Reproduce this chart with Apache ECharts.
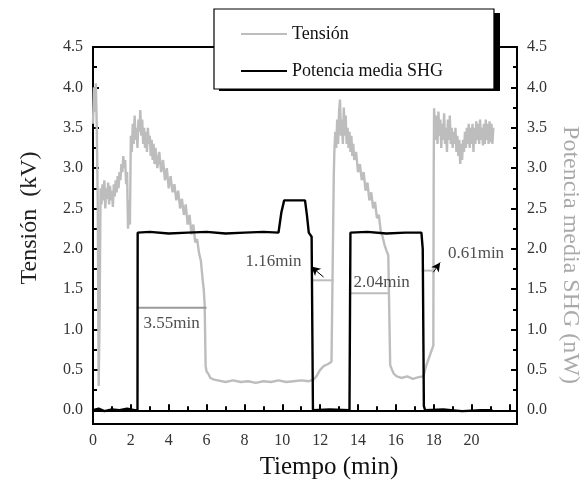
<!DOCTYPE html>
<html>
<head>
<meta charset="utf-8">
<script src="https://cdn.jsdelivr.net/npm/echarts@6/dist/echarts.min.js"></script>
<style>
  html, body { margin: 0; padding: 0; background: #fff; }
  #main { width: 587px; height: 483px; }
</style>
</head>
<body>
<div id="main"></div>
<script>
// Tensión (kV), gris: [tiempo (min), valor]
const tension = [
  [0, 3.55], [0.05, 4.0], [0.1, 3.7], [0.15, 4.05], [0.2, 3.5], [0.25, 2.6], [0.3, 0.3], [0.35, 1.2], [0.4, 2.75],
  [0.45, 2.55], [0.5, 2.8], [0.55, 2.6], [0.6, 2.85], [0.65, 2.5], [0.7, 2.75], [0.75, 2.62], [0.8, 2.82],
  [0.85, 2.55], [0.9, 2.78], [0.95, 2.6], [1.0, 2.72], [1.05, 2.52], [1.1, 2.8], [1.15, 2.65], [1.2, 2.85],
  [1.25, 2.7], [1.3, 2.9], [1.35, 2.75], [1.4, 2.95], [1.45, 2.85], [1.5, 3.05], [1.55, 2.95], [1.6, 3.15],
  [1.65, 3.0], [1.7, 3.1], [1.75, 2.8], [1.8, 2.95], [1.85, 2.25], [1.9, 2.6], [1.95, 2.3],
  [2.0, 3.4], [2.05, 3.2], [2.1, 3.55], [2.15, 3.3], [2.2, 3.65], [2.25, 3.35], [2.3, 3.5], [2.35, 3.25],
  [2.4, 3.6], [2.45, 3.45], [2.5, 3.72], [2.55, 3.4], [2.6, 3.6], [2.65, 3.3], [2.7, 3.5], [2.75, 3.25],
  [2.8, 3.45], [2.85, 3.2], [2.9, 3.5], [2.95, 3.3], [3.0, 3.4], [3.05, 3.15],
  [3.1, 3.35], [3.15, 3.1], [3.2, 3.3], [3.25, 3.05], [3.3, 3.25], [3.4, 3.0], [3.5, 3.2], [3.6, 2.95],
  [3.7, 3.1], [3.8, 2.85], [3.9, 3.0], [4.0, 2.75], [4.1, 2.9], [4.2, 2.7], [4.3, 2.8], [4.4, 2.6],
  [4.5, 2.72], [4.6, 2.5], [4.7, 2.62], [4.8, 2.42], [4.9, 2.55], [5.0, 2.3], [5.1, 2.42], [5.2, 2.18],
  [5.3, 2.3], [5.4, 2.08], [5.5, 2.12], [5.6, 1.95], [5.7, 1.85], [5.8, 1.6], [5.85, 1.5], [5.9, 1.3],
  [5.95, 0.55], [6.0, 0.48], [6.1, 0.45], [6.2, 0.4], [6.4, 0.38], [6.6, 0.37],
  [7.0, 0.35], [7.4, 0.37], [7.8, 0.35], [8.2, 0.36], [8.6, 0.34], [9.0, 0.36], [9.4, 0.35], [9.8, 0.37],
  [10.2, 0.35], [10.6, 0.36], [11.0, 0.37], [11.4, 0.36], [11.65, 0.38],
  [11.8, 0.42], [12.0, 0.5], [12.2, 0.55], [12.4, 0.57], [12.6, 0.6], [12.7, 0.62], [12.72, 2.9], [12.75, 3.2],
  [12.8, 3.45], [12.85, 3.25], [12.9, 3.6], [12.95, 3.3], [13.0, 3.7], [13.05, 3.85], [13.1, 3.4], [13.15, 3.6],
  [13.2, 3.3], [13.25, 3.75], [13.3, 3.4], [13.35, 3.65], [13.4, 3.3], [13.45, 3.5], [13.5, 3.25], [13.55, 3.45],
  [13.6, 3.2], [13.65, 3.4], [13.7, 3.15], [13.75, 3.3],
  [13.8, 3.1], [13.9, 3.2], [14.0, 2.95], [14.1, 3.05], [14.2, 2.85], [14.3, 2.95], [14.4, 2.72], [14.5, 2.82],
  [14.6, 2.6], [14.7, 2.7], [14.8, 2.5], [14.9, 2.58], [15.0, 2.38], [15.1, 2.42], [15.2, 2.22], [15.3, 2.15],
  [15.4, 2.05], [15.5, 1.98], [15.6, 1.92], [15.65, 1.9], [15.7, 0.56], [15.8, 0.5], [15.9, 0.45], [16.05, 0.42],
  [16.3, 0.4], [16.6, 0.42], [16.9, 0.39], [17.2, 0.41], [17.45, 0.42],
  [17.6, 0.55], [17.75, 0.65], [17.9, 0.75], [17.98, 0.8], [18.0, 3.0], [18.02, 3.74],
  [18.1, 3.35], [18.15, 3.65], [18.2, 3.3], [18.25, 3.7], [18.3, 3.4], [18.35, 3.6], [18.4, 3.25], [18.45, 3.55],
  [18.5, 3.35], [18.55, 3.68], [18.6, 3.3], [18.65, 3.5], [18.7, 3.2], [18.75, 3.6], [18.8, 3.35], [18.85, 3.65],
  [18.9, 3.3], [18.95, 3.5], [19.0, 3.25], [19.05, 3.45], [19.1, 3.3], [19.15, 3.5], [19.2, 3.2], [19.25, 3.4],
  [19.3, 3.15], [19.35, 3.35], [19.4, 3.05], [19.45, 3.3], [19.5, 3.1], [19.55, 3.35], [19.6, 3.2], [19.65, 3.45],
  [19.7, 3.25], [19.75, 3.5], [19.8, 3.3], [19.85, 3.55], [19.9, 3.25], [19.95, 3.5], [20.0, 3.3], [20.05, 3.55],
  [20.1, 3.2], [20.15, 3.5], [20.2, 3.3], [20.25, 3.58], [20.3, 3.35], [20.35, 3.55], [20.4, 3.3], [20.45, 3.6],
  [20.5, 3.35], [20.55, 3.5], [20.6, 3.28], [20.65, 3.55], [20.7, 3.3], [20.75, 3.6], [20.8, 3.35], [20.85, 3.55],
  [20.9, 3.3], [20.95, 3.58], [21.0, 3.32], [21.05, 3.55], [21.1, 3.3], [21.15, 3.5]
]

// Potencia media SHG (nW), negro
const potencia = [
  [0, 0.0], [0.3, 0.02], [0.6, -0.01], [1.0, 0.01], [1.4, 0.0], [1.8, 0.02], [2.2, 0.0], [2.35, 0.0],
  [2.36, 2.2], [3, 2.21], [4, 2.19], [5, 2.2], [6, 2.21], [7, 2.19], [8, 2.2], [9, 2.21], [9.8, 2.2],
  [9.95, 2.45], [10.1, 2.6], [11.2, 2.6], [11.3, 2.42], [11.4, 2.2], [11.55, 2.15], [11.62, 0.0],
  [12.5, 0.01], [13.55, 0.0], [13.6, 2.2], [14.5, 2.21], [15.5, 2.19], [16.5, 2.2], [17.35, 2.2],
  [17.42, 2.0], [17.48, 0.05], [17.55, 0.0], [18.5, 0.01], [19.5, -0.01], [20.5, 0.0], [21.1, 0.0]
]

// tramos horizontales que miden los tiempos
const tramos = [
  { d: [[2.36, 1.27], [6.0, 1.27]], c: '#9a9a9a' },
  { d: [[11.6, 1.61], [12.72, 1.61]], c: '#bdbdbd' },
  { d: [[13.59, 1.45], [15.65, 1.45]], c: '#bdbdbd' },
  { d: [[17.37, 1.73], [17.98, 1.73]], c: '#bdbdbd' }
]
// flechas: [cabeza, cola]
const flechas = [
  [[11.53, 1.78], [12.18, 1.65]],
  [[18.34, 1.83], [17.98, 1.71]]
]
const etiquetas = [
  [2.67, 1.07, '3.55min'],
  [8.05, 1.84, '1.16min'],
  [13.76, 1.58, '2.04min'],
  [18.75, 1.94, '0.61min']
]

const yLabels = [0, 0.5, 1, 1.5, 2, 2.5, 3, 3.5, 4, 4.5]
const yMinor = [0.25, 0.75, 1.25, 1.75, 2.25, 2.75, 3.25, 3.75, 4.25]

const serif = 'Liberation Serif'
const lbl = { color: '#333', fontFamily: serif, fontSize: 16 }

function yAx(pos, minor) {
  return {
    type: 'value', position: pos, min: -0.17, max: 4.5,
    splitLine: { show: false },
    axisLine: { show: true, lineStyle: { color: '#000', width: 2 } },
    axisTick: {
      show: true, inside: true, length: minor ? 4 : 6,
      lineStyle: { color: '#000', width: 2 },
      customValues: minor ? yMinor : yLabels
    },
    axisLabel: minor ? { show: false } : Object.assign({
      margin: 10, customValues: yLabels,
      formatter: v => v.toFixed(1)
    }, lbl)
  }
}

const lineIcon = 'path://M0,0L46,0L46,2L0,2Z'

const series = [
  {
    name: 'Tensión', type: 'line', data: tension, yAxisIndex: 0,
    symbol: 'none', lineStyle: { color: '#bdbdbd', width: 2.4 }, itemStyle: { color: '#bdbdbd' }, z: 2
  },
  {
    name: 'Potencia media SHG', type: 'line', data: potencia, yAxisIndex: 2,
    symbol: 'none', lineStyle: { color: '#000', width: 2.4 }, itemStyle: { color: '#000' }, z: 3
  }
]
tramos.forEach(t => {
  series.push({
    type: 'line', data: t.d, symbol: 'none', yAxisIndex: 0, silent: true,
    lineStyle: { color: t.c, width: 2 }, z: 2
  })
})
series.push({
  type: 'line', data: [], yAxisIndex: 0, silent: true,
  markLine: {
    silent: true, symbol: ['arrow', 'none'], symbolSize: [7, 9],
    lineStyle: { color: '#000', width: 1, type: 'solid' }, label: { show: false },
    data: flechas.map(f => [{ coord: f[0] }, { coord: f[1] }])
  }
})
series.push({
  type: 'scatter', data: etiquetas, yAxisIndex: 0, symbolSize: 0, silent: true,
  label: {
    show: true, position: [0, 0], align: 'left', verticalAlign: 'middle',
    formatter: p => p.data[2], color: '#222', fontFamily: serif, fontSize: 17
  }
})

const chart = echarts.init(document.getElementById('main'))
chart.setOption({
  animation: false,
  backgroundColor: '#fff',
  grid: { left: 93, right: 70, top: 47, bottom: 59, show: true, borderColor: '#000', borderWidth: 2 },
  xAxis: {
    type: 'value', min: 0, max: 22.4, interval: 2,
    splitLine: { show: false },
    axisLine: { show: true, lineStyle: { color: '#000', width: 2 } },
    axisTick: { show: true, inside: true, length: 6, lineStyle: { color: '#000', width: 2 } },
    minorTick: { show: true, splitNumber: 2, length: 4, lineStyle: { color: '#000', width: 2 } },
    axisLabel: Object.assign({ margin: 9, showMaxLabel: false, formatter: v => (v <= 20 ? String(v) : '') }, lbl)
  },
  yAxis: [yAx('left', false), yAx('left', true), yAx('right', false), yAx('right', true)],
  legend: {
    data: [
      { name: 'Tensión', icon: lineIcon, itemStyle: { color: '#bdbdbd' } },
      { name: 'Potencia media SHG', icon: lineIcon, itemStyle: { color: '#000' } }
    ],
    orient: 'vertical', left: 214, top: 9,
    padding: [15, 51, 8, 27], itemGap: 17, itemWidth: 46, itemHeight: 2,
    backgroundColor: '#fff', borderColor: '#000', borderWidth: 1.2,
    textStyle: { fontFamily: serif, fontSize: 18, color: '#111', lineHeight: 20 },
    z: 10
  },
  graphic: [
    { type: 'rect', z: 9, shape: { x: 219, y: 13, width: 281, height: 78 }, style: { fill: '#000' } },
    {
      type: 'text', x: 30, y: 218, rotation: Math.PI / 2,
      style: { text: 'Tensión  (kV)', fontFamily: serif, fontSize: 24, fill: '#222', align: 'center', verticalAlign: 'middle' }
    },
    {
      type: 'text', x: 570, y: 255, rotation: -Math.PI / 2,
      style: { text: 'Potencia media SHG (nW)', fontFamily: serif, fontSize: 24, fill: '#aaaaaa', align: 'center', verticalAlign: 'middle' }
    },
    {
      type: 'text', x: 329, y: 467,
      style: { text: 'Tiempo (min)', fontFamily: serif, fontSize: 25, fill: '#111', align: 'center', verticalAlign: 'middle' }
    }
  ],
  series: series
})
</script>
</body>
</html>
